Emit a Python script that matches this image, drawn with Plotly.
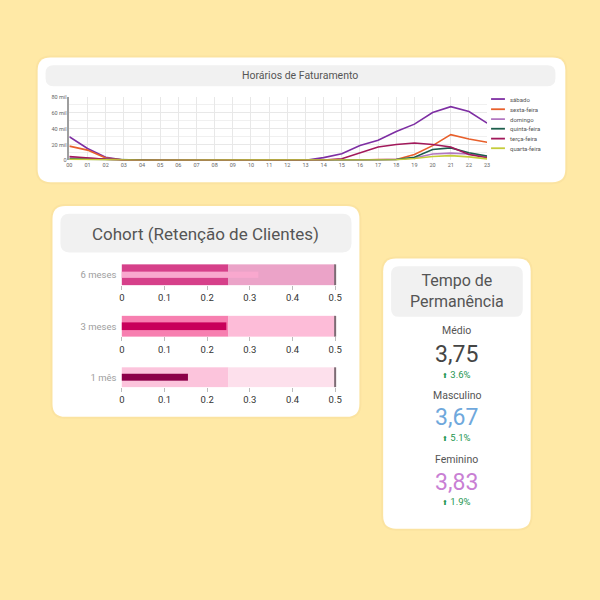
import plotly.graph_objects as go

# ---------------- data ----------------
hours = list(range(24))
hour_labels = [f"{h:02d}" for h in hours]

sabado = [30000, 15000, 4000, 500, 0, 0, 0, 0, 0, 0, 0, 0, 0, 300, 3500, 8300, 18700, 25400, 36500, 45800, 60400, 67900, 61700, 47000]
sexta = [18000, 13000, 3000, 500, 0, 0, 0, 0, 0, 0, 0, 0, 0, 0, 0, 500, 500, 1000, 1200, 7500, 18700, 32500, 27000, 23000]
domingo = [4000, 2500, 1000, 300, 0, 0, 0, 0, 0, 0, 0, 0, 0, 0, 0, 0, 500, 800, 1500, 3000, 8000, 9200, 8000, 4500]
quinta = [2000, 1500, 1000, 300, 0, 0, 0, 0, 0, 0, 0, 0, 0, 0, 0, 0, 300, 500, 1000, 4000, 13700, 15800, 9600, 5500]
terca = [5000, 3000, 1500, 300, 0, 0, 0, 0, 0, 0, 0, 0, 0, 0, 500, 2000, 9600, 17000, 20000, 22000, 20000, 17000, 7500, 3400]
quarta = [1500, 1000, 500, 200, 0, 0, 0, 0, 0, 0, 0, 0, 0, 0, 0, 0, 200, 300, 800, 2500, 5000, 6000, 4500, 2000]

series_names = ["sábado", "sexta-feira", "domingo", "quinta-feira", "terça-feira", "quarta-feira"]
series_values = [sabado, sexta, domingo, quinta, terca, quarta]
series_colors = ["#7e2fa3", "#e8602c", "#b277c1", "#1d5e4c", "#a2195b", "#c5cc3a"]

y_tickvals = [0, 20000, 40000, 60000, 80000]
y_ticktext = ["0", "20 mil", "40 mil", "60 mil", "80 mil"]

cohort_labels = ["6 meses", "3 meses", "1 mês"]
cohort_values = [0.32, 0.245, 0.155]
cohort_target = [0.5, 0.5, 0.5]
cohort_steps = [[0, 0.25, 0.5], [0, 0.25, 0.5], [0, 0.25, 0.5]]
cohort_ticks = [0, 0.1, 0.2, 0.3, 0.4, 0.5]

kpi_labels = ["Médio", "Masculino", "Feminino"]
kpi_values = ["3,75", "3,67", "3,83"]
kpi_deltas = ["3.6%", "5.1%", "1.9%"]

# ---------------- helpers ----------------
W = H = 600
def px(x):
    return x / W
def py(y):
    return 1 - y / H

def rrect(x0, y0, x1, y1, r):
    pts = [
        f"M {px(x0 + r)},{py(y0)}",
        f"L {px(x1 - r)},{py(y0)}",
        f"Q {px(x1)},{py(y0)} {px(x1)},{py(y0 + r)}",
        f"L {px(x1)},{py(y1 - r)}",
        f"Q {px(x1)},{py(y1)} {px(x1 - r)},{py(y1)}",
        f"L {px(x0 + r)},{py(y1)}",
        f"Q {px(x0)},{py(y1)} {px(x0)},{py(y1 - r)}",
        f"L {px(x0)},{py(y0 + r)}",
        f"Q {px(x0)},{py(y0)} {px(x0 + r)},{py(y0)}",
        "Z",
    ]
    return " ".join(pts)

shapes = []
def card(x0, y0, x1, y1, r, color):
    shapes.append(dict(type="path", path=rrect(x0, y0, x1, y1, r), xref="paper", yref="paper",
                       fillcolor=color, line=dict(width=0), layer="below"))

# cards (soft shadow + white)
for (x0, y0, x1, y1) in [(35, 55, 568, 181), (50, 205, 360, 418), (384, 258, 533, 531)]:
    card(x0 - 2, y0 - 2, x1 + 2, y1 + 2, 15, "#fbe3a0")
    card(x0, y0, x1, y1, 13, "#ffffff")
# title bars
card(43, 63, 558, 84, 8, "#f1f1f1")
card(58, 213, 352, 252, 9, "#f1f1f1")
card(392, 266, 525, 317, 8, "#f1f1f1")

fig = go.Figure()

# ---------------- line chart ----------------
for name, vals, col in zip(series_names, series_values, series_colors):
    fig.add_trace(go.Scatter(x=hours, y=vals, name=name, mode="lines",
                             line=dict(color=col, width=1.6), cliponaxis=False,
                             xaxis="x", yaxis="y", showlegend=False))

# ---------------- bullets ----------------
bullet_rows = [(264, 285), (316, 337), (368, 388)]
step_colors = [["#d6408a", "#eba3c8"], ["#f77fb0", "#fdbcd8"], ["#fcc4dc", "#fde0ec"]]
bar_colors = ["#f9a8ce", "#c8005a", "#8c0049"]
bar_thick = [0.3, 0.37, 0.35]
for i, (lab, val) in enumerate(zip(cohort_labels, cohort_values)):
    y0, y1 = bullet_rows[i]
    st = cohort_steps[i]
    fig.add_trace(go.Indicator(
        mode="gauge", value=val,
        domain=dict(x=[px(120), px(335.5)], y=[py(y1), py(y0)]),
        title=dict(text=lab, font=dict(size=9.5, color="#9e9e9e", family="Roboto")),
        gauge=dict(
            shape="bullet",
            axis=dict(range=[0, 0.5], tickvals=cohort_ticks, ticktext=[str(t) for t in cohort_ticks],
                      tickfont=dict(size=9.5, color="#333333", family="Roboto"),
                      ticks="outside", ticklen=4, tickcolor="#bbbbbb", tickwidth=1),
            bgcolor="white", borderwidth=0,
            steps=[dict(range=[st[0], st[1]], color=step_colors[i][0]),
                   dict(range=[st[1], st[2]], color=step_colors[i][1])],
            bar=dict(color=bar_colors[i], thickness=bar_thick[i], line=dict(width=0)),
            threshold=dict(line=dict(color="#7d6b74", width=2), thickness=1, value=cohort_target[i]),
        ),
    ))

# ---------------- annotations ----------------
ann = []
def text(t, x, y, size, color, xanchor="center"):
    ann.append(dict(text=t, x=px(x), y=py(y), xref="paper", yref="paper", showarrow=False,
                    xanchor=xanchor, yanchor="middle",
                    font=dict(size=size, color=color, family="Roboto")))

text("Horários de Faturamento", 300, 73, 10.5, "#555555")
text("Cohort (Retenção de Clientes)", 205, 233, 17, "#555555")
text("Tempo de<br>Permanência", 458.5, 291, 16, "#555555")

kpi_colors = ["#454545", "#6fa8dc", "#c97fd4"]
kpi_y = [(331, 355, 375), (396, 419, 439), (461, 484, 504)]
for lab, v, d, c, (yl, yv, yd) in zip(kpi_labels, kpi_values, kpi_deltas, kpi_colors, kpi_y):
    text(lab, 458.5, yl, 10.5, "#555555")
    text(v, 458.5, yv, 23, c)
    text("<span style='font-size:7px'>⬆</span> " + d, 458.5, yd, 9.5, "#1e9650")

# manual compact legend
leg_y = [97, 107.3, 117.3, 127, 137, 146.7]
for name, col, ly in zip(series_names, series_colors, leg_y):
    shapes.append(dict(type="line", xref="paper", yref="paper", x0=px(493), x1=px(507),
                       y0=py(ly), y1=py(ly), line=dict(color=col, width=1.8)))
    text(name, 510, ly, 6, "#555555", xanchor="left")

fig.update_layout(
    width=600, height=600, margin=dict(l=0, r=0, t=0, b=0),
    paper_bgcolor="#ffe9a6", plot_bgcolor="rgba(0,0,0,0)",
    font=dict(family="Roboto"),
    shapes=shapes, annotations=ann, showlegend=False,
    xaxis=dict(domain=[px(67), px(489)], range=[0, 23], tickvals=hours, ticktext=hour_labels,
               tickfont=dict(size=5.5, color="#666666"), showgrid=True, gridcolor="#e8e8e8", gridwidth=1,
               zeroline=False, showline=False, ticks="", fixedrange=True, anchor="y"),
    yaxis=dict(domain=[py(159), py(95)], range=[0, 80000], tickvals=y_tickvals, ticktext=y_ticktext,
               tickfont=dict(size=5.5, color="#666666"), showgrid=True, gridcolor="#e8e8e8", gridwidth=1,
               minor=dict(dtick=10000, showgrid=True, gridcolor="#f0f0f0"),
               zeroline=False, showline=True, linecolor="#9e9e9e", linewidth=1.5, ticks="", anchor="x"),
)

fig.write_html("out.html")
